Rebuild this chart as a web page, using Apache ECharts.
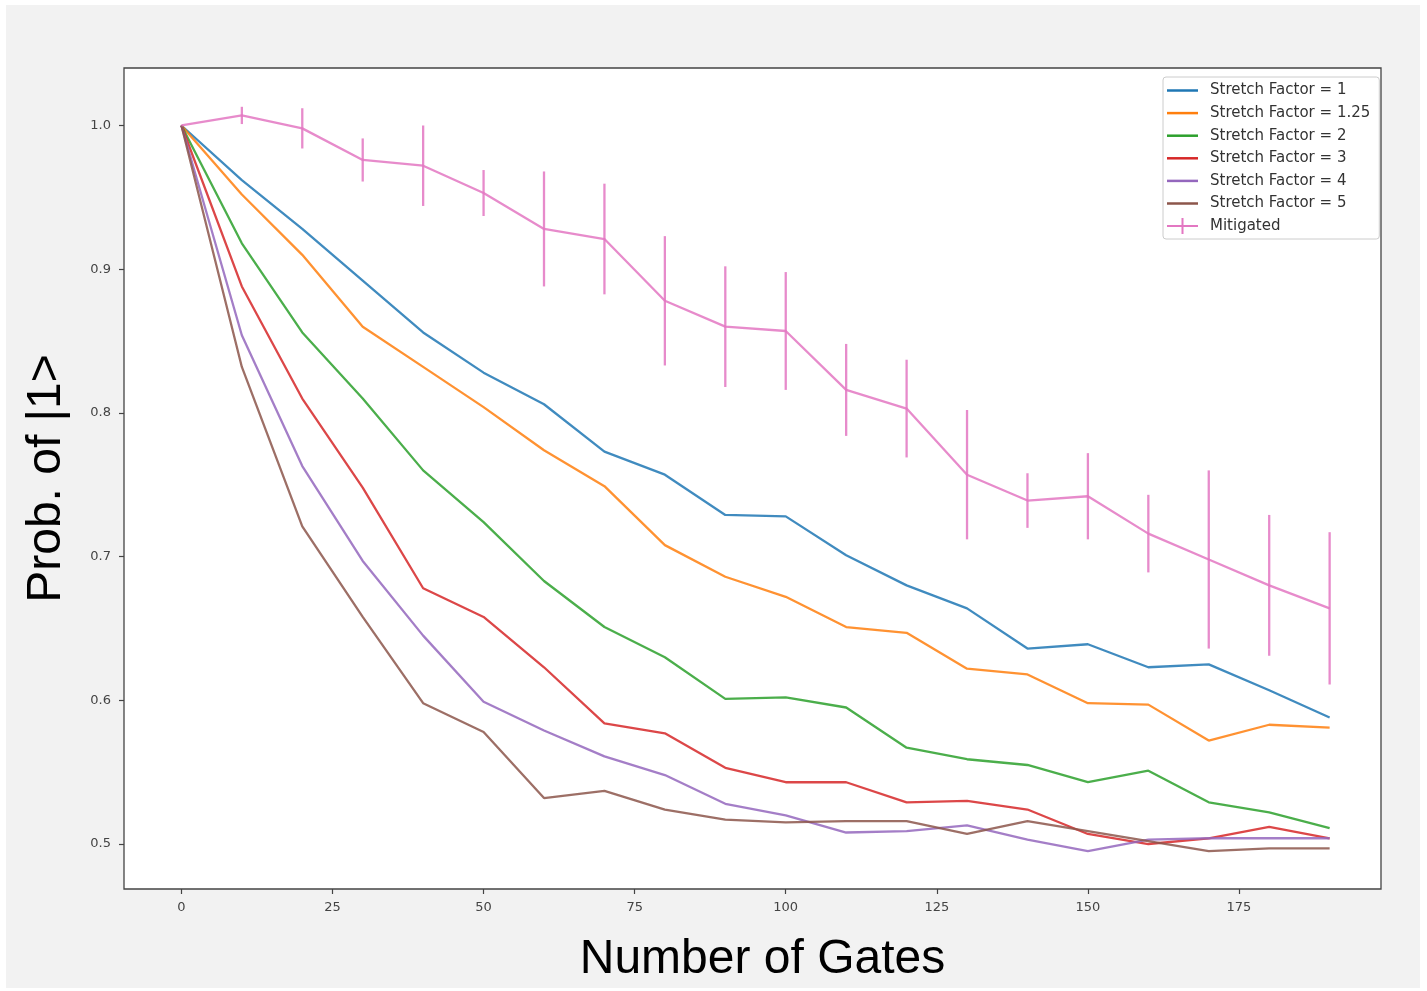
<!DOCTYPE html>
<html>
<head>
<meta charset="utf-8">
<script src="https://cdn.jsdelivr.net/npm/echarts@6.0.0/dist/echarts.min.js"></script>
<style>
  html, body { margin: 0; padding: 0; background: #fff; }
  #chart { position: absolute; left: 6px; top: 5px; width: 1414px; height: 983px; background: #f2f2f2; }
</style>
</head>
<body>
<div id="chart"></div>
<script>
// x positions (number of gates)
const gates = [0, 10, 20, 30, 40, 50, 60, 70, 80, 90, 100, 110, 120, 130, 140, 150, 160, 170, 180, 190]
const sf1 = [1.0, 0.962, 0.928, 0.892, 0.856, 0.828, 0.806, 0.773, 0.757, 0.729, 0.728, 0.701, 0.680, 0.664, 0.636, 0.639, 0.623, 0.625, 0.607, 0.588]
const sf125 = [1.0, 0.952, 0.910, 0.860, 0.832, 0.804, 0.774, 0.749, 0.708, 0.686, 0.672, 0.651, 0.647, 0.622, 0.618, 0.598, 0.597, 0.572, 0.583, 0.581]
const sf2 = [1.0, 0.918, 0.856, 0.810, 0.760, 0.724, 0.683, 0.651, 0.630, 0.601, 0.602, 0.595, 0.567, 0.559, 0.555, 0.543, 0.551, 0.529, 0.522, 0.511]
const sf3 = [1.0, 0.888, 0.810, 0.748, 0.678, 0.658, 0.623, 0.584, 0.577, 0.553, 0.543, 0.543, 0.529, 0.530, 0.524, 0.507, 0.500, 0.504, 0.512, 0.504]
const sf4 = [1.0, 0.854, 0.763, 0.697, 0.645, 0.599, 0.579, 0.561, 0.548, 0.528, 0.520, 0.508, 0.509, 0.513, 0.503, 0.495, 0.503, 0.504, 0.504, 0.504]
const sf5 = [1.0, 0.832, 0.721, 0.658, 0.598, 0.578, 0.532, 0.537, 0.524, 0.517, 0.515, 0.516, 0.516, 0.507, 0.516, 0.509, 0.502, 0.495, 0.497, 0.497]
const mitigated = [1.0, 1.007, 0.998, 0.976, 0.972, 0.953, 0.928, 0.921, 0.878, 0.860, 0.857, 0.816, 0.803, 0.757, 0.739, 0.742, 0.716, 0.698, 0.680, 0.664]
const mitigatedErr = [0, 0.006, 0.014, 0.015, 0.028, 0.016, 0.040, 0.0385, 0.045, 0.042, 0.041, 0.032, 0.034, 0.045, 0.019, 0.030, 0.027, 0.062, 0.049, 0.053]

const xTicks = [0, 25, 50, 75, 100, 125, 150, 175]
const yTicks = [0.5, 0.6, 0.7, 0.8, 0.9, 1.0]

const names = ['Stretch Factor = 1', 'Stretch Factor = 1.25', 'Stretch Factor = 2', 'Stretch Factor = 3', 'Stretch Factor = 4', 'Stretch Factor = 5']
const values = [sf1, sf125, sf2, sf3, sf4, sf5]
const color = ['#1f77b4', '#ff7f0e', '#2ca02c', '#d62728', '#9467bd', '#8c564b']
const pink = '#e377c2'

const pairs = (ys) => gates.map((g, i) => [g, ys[i]])

const chart = echarts.init(document.getElementById('chart'))

const lineSeries = names.map((name, i) => ({
  name,
  type: 'line',
  data: pairs(values[i]),
  symbol: 'none',
  color: color[i],
  lineStyle: { width: 2.3, color: color[i], opacity: 0.85 },
  z: 2
}))

chart.setOption({
  animation: false,
  backgroundColor: 'transparent',
  grid: {
    left: 118, top: 63, right: 39, bottom: 99,
    outerBoundsMode: 'none',
    containLabel: false,
    show: true, backgroundColor: '#fff', borderColor: '#444', borderWidth: 1.3
  },
  xAxis: {
    type: 'value',
    min: -9.5,
    max: 198.5,
    name: 'Number of Gates',
    nameLocation: 'middle',
    nameGap: 47,
    nameTextStyle: { fontFamily: 'Liberation Sans', fontSize: 48, color: '#000', padding: [0, 0, 0, 20] },
    axisLine: { show: false, onZero: false },
    splitLine: { show: false },
    axisTick: { show: true, length: 5, customValues: xTicks, lineStyle: { color: '#444', width: 1.2 } },
    axisLabel: { customValues: xTicks, margin: 12, fontSize: 13, fontFamily: 'DejaVu Sans', color: '#444' }
  },
  yAxis: {
    type: 'value',
    min: 0.4687,
    max: 1.040,
    name: 'Prob. of |1>',
    nameLocation: 'middle',
    nameGap: 53,
    nameTextStyle: { fontFamily: 'Liberation Sans', fontSize: 48, color: '#000' },
    axisLine: { show: false, onZero: false },
    splitLine: { show: false },
    axisTick: { show: true, length: 5, customValues: yTicks, lineStyle: { color: '#444', width: 1.2 } },
    axisLabel: {
      customValues: yTicks, margin: 13, fontSize: 13, fontFamily: 'DejaVu Sans', color: '#444',
      formatter: (v) => v.toFixed(1)
    }
  },
  legend: [{
    data: names,
    orient: 'vertical',
    left: 1157,
    top: 72,
    padding: [6, 9, 28, 4],
    itemGap: 7.6,
    itemWidth: 31,
    itemHeight: 2.5,
    icon: 'rect',
    textStyle: { fontSize: 15, fontFamily: 'DejaVu Sans', color: '#333', padding: [0, 0, 0, 7] },
    backgroundColor: 'rgba(255,255,255,0.8)',
    borderColor: '#ccc',
    borderWidth: 1,
    borderRadius: 3
  }, {
    data: ['Mitigated'],
    orient: 'vertical',
    left: 1161,
    top: 213,
    padding: 0,
    itemWidth: 31,
    itemHeight: 16,
    icon: 'path://M0,7 L31,7 L31,9 L0,9 Z M14.5,0 L16.5,0 L16.5,16 L14.5,16 Z',
    textStyle: { fontSize: 15, fontFamily: 'DejaVu Sans', color: '#333', padding: [0, 0, 0, 7] }
  }],
  series: [
    ...lineSeries,
    {
      name: 'Mitigated',
      type: 'line',
      data: pairs(mitigated),
      symbol: 'none',
      color: pink,
      lineStyle: { width: 2.3, color: pink, opacity: 0.85 },
      z: 3
    },
    {
      name: 'Mitigated',
      type: 'custom',
      data: gates.map((g, i) => [g, mitigated[i] - mitigatedErr[i], mitigated[i] + mitigatedErr[i]]),
      encode: { x: 0, y: [1, 2] },
      color: pink,
      z: 3,
      renderItem: (params, api) => {
        const lo = api.coord([api.value(0), api.value(1)])
        const hi = api.coord([api.value(0), api.value(2)])
        return {
          type: 'line',
          shape: { x1: lo[0], y1: lo[1], x2: hi[0], y2: hi[1] },
          style: { stroke: pink, lineWidth: 2.3, opacity: 0.85 }
        }
      }
    }
  ]
})
</script>
</body>
</html>
